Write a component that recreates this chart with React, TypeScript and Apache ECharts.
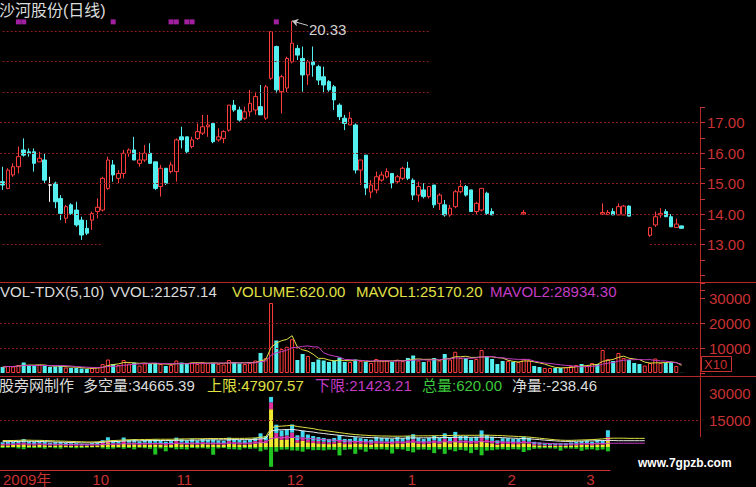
import React, { useEffect, useRef } from 'react';
import * as echarts from 'echarts';

const N = 133;
// [open, close, low, high]; null = no candle drawn
const price: (number[] | null)[] = [
  [15.06,14.95,14.79,15.55],[14.84,15.44,14.81,15.50],[15.28,15.55,15.22,15.66],[15.55,15.88,15.33,16.21],
  [16.10,15.93,15.88,16.48],[16.04,15.99,15.88,16.15],[16.04,15.66,15.39,16.15],[15.71,15.83,15.71,16.04],
  [15.77,15.11,15.01,15.99],[14.95,14.95,14.40,15.22],[15.01,14.40,14.19,15.06],[14.51,14.02,13.80,14.62],
  [13.86,14.24,13.70,14.30],[14.30,14.02,13.97,14.35],[14.13,13.64,13.58,14.40],[13.80,13.31,13.15,13.91],
  [13.53,13.37,13.31,13.80],[13.80,14.02,13.48,14.08],[14.08,14.22,13.86,14.51],[14.13,15.17,14.08,15.22],
  [14.84,15.77,14.79,15.88],[15.61,15.28,15.06,15.77],[15.17,15.33,15.01,15.44],[15.33,15.99,15.17,16.10],
  [15.99,16.10,15.88,16.15],[16.10,15.77,15.77,16.53],[15.66,15.77,15.55,16.04],[15.77,15.99,15.71,16.26],
  [15.99,15.66,15.66,16.32],[15.71,14.84,14.79,15.71],[14.90,15.50,14.57,15.61],[15.50,15.01,14.95,15.50],
  [15.39,15.61,15.33,15.71],[15.39,16.43,15.06,16.48],[16.53,16.43,16.15,16.86],[16.53,16.04,15.99,16.53],
  [16.21,16.43,16.15,16.53],[16.48,16.70,16.43,16.97],[16.65,16.86,16.59,17.25],[16.86,16.92,16.53,17.25],
  [16.97,16.37,16.32,16.97],[16.43,16.53,16.37,16.81],[16.48,16.70,16.32,16.75],[16.75,17.57,16.70,17.57],
  [17.57,17.41,17.35,17.74],[17.41,17.08,17.03,17.52],[17.14,17.35,17.08,17.52],[17.35,17.63,17.19,18.07],
  [17.41,17.85,17.25,18.01],[17.52,17.25,17.25,18.23],[17.14,18.17,17.08,18.23],[18.45,19.98,18.40,20.00],
  [19.49,18.07,17.96,19.52],[18.01,18.50,17.30,18.56],[18.13,19.10,18.00,19.16],[18.99,19.60,18.94,20.33],
  [19.43,19.21,19.05,19.54],[19.10,18.56,18.01,19.49],[18.56,18.99,18.23,19.05],[18.99,18.89,18.50,19.49],
  [18.83,18.39,18.23,18.89],[18.50,18.23,17.96,18.83],[18.34,18.07,18.01,18.39],[18.17,17.74,17.41,18.23],
  [17.57,17.19,17.08,17.63],[17.14,16.97,16.75,17.25],[16.92,17.14,16.92,17.35],[16.92,15.44,15.33,16.97],
  [15.44,15.77,14.95,15.77],[15.93,14.85,14.62,15.93],[14.72,14.95,14.52,15.11],[14.79,15.22,14.68,15.39],
  [15.11,15.28,15.06,15.39],[15.22,15.39,15.17,15.50],[15.33,15.01,14.84,15.33],[15.06,15.22,15.01,15.28],
  [15.17,15.50,15.11,15.55],[15.50,15.17,15.11,15.71],[15.11,14.62,14.46,15.17],[14.62,14.90,14.40,15.06],
  [14.79,14.57,14.51,15.01],[14.57,14.90,14.51,14.90],[14.95,14.30,14.20,14.95],[14.35,14.62,14.13,14.68],
  [14.30,13.97,13.91,14.46],[13.97,14.19,13.91,14.30],[14.24,14.73,14.19,14.79],[14.73,14.90,14.68,15.11],
  [14.90,14.62,14.57,14.95],[14.79,14.08,14.08,14.79],[14.08,14.35,13.97,14.40],[14.13,14.84,14.08,14.84],
  [14.68,14.02,13.97,14.73],[14.08,13.97,13.97,14.19],
  null,null,null,null,null,
  [14.00,14.05,13.97,14.13],
  null,null,null,null,null,null,null,null,null,null,null,null,null,null,
  [14.00,14.05,13.97,14.35],[13.98,14.05,13.97,14.13],[14.08,13.97,13.97,14.19],[13.97,14.24,13.97,14.35],
  [13.97,14.26,13.97,14.30],[14.26,13.93,13.93,14.28],
  null,null,null,
  [13.30,13.55,13.25,13.58],[13.64,13.91,13.58,14.08],[13.97,14.02,13.87,14.19],[14.08,13.91,13.90,14.16],
  [13.91,13.58,13.58,14.00],[13.56,13.67,13.56,13.85],[13.61,13.53,13.52,13.62],
  null,null,null,
];

const volume: number[] = [
  2400,2800,2600,3200,4200,3000,2800,3200,2800,2400,
  2600,2800,2200,2000,2000,1800,1600,2000,2400,3600,
  5400,3600,3200,5200,3800,4200,3000,3800,3800,4000,
  3600,2800,3200,5000,4200,3600,4200,3600,4400,4000,
  4000,3600,3400,5200,4400,3800,3600,4000,5000,8000,
  6000,28000,13000,9600,10500,13500,5200,7600,6800,4400,
  5400,5000,4400,5000,6200,4400,4400,5400,4800,4400,
  4000,5600,5000,5000,4400,5300,4800,6000,7000,5000,
  4400,5000,6000,5000,7600,5400,8500,6000,6000,5200,
  5600,9200,6700,5600,3600,4800,4800,4400,4400,5600,
  5000,2800,2400,2000,2000,2000,2000,2400,2800,3200,
  3600,2800,4000,3600,9200,5600,4800,8000,6000,5200,
  4000,3600,3000,4000,5800,4000,4000,4400,2800,62,
];
const volDir =
  'duuudddudd' + 'ddudddduuu' + 'uduuuduudd' + 'uduudduuuu' + 'duuudduuud' +
  'uuduuuddud' + 'ddddddudud' + 'uuuuduuddu' + 'dududuuudd' + 'uudddduduu' +
  'udduudduuu' + 'duuduuduud' + 'dduuuuddud';

const yellowSeg: number[] = [
  1000,900,1100,1300,1500,1000,900,1200,1000,800,
  900,1000,800,700,700,600,600,800,900,1500,
  2200,1200,1200,2000,1400,1500,1100,1400,1300,1400,
  1300,1000,1200,2000,1500,1300,1500,1300,1600,1400,
  1400,1300,1200,2000,1600,1400,1300,1500,2000,2800,
  2200,21000,5000,4000,4200,5200,2500,3400,2600,2200,
  2000,1800,1600,1800,2400,1600,1600,2000,1800,1600,
  1400,2000,1800,1800,1600,2000,1800,2200,2600,1800,
  1600,1800,2200,1800,2800,2000,3000,2200,2200,1800,
  2000,3400,2400,2000,1300,1700,1700,1600,1600,2000,
  1800,1000,900,700,700,700,700,700,900,1000,
  1200,1300,1000,1400,1300,3300,
];
const magentaSeg: number[] = [
  700,800,700,900,1000,800,700,900,700,600,
  700,700,600,500,500,400,400,500,600,900,
  1400,900,800,1300,1000,1000,800,1000,900,1000,
  900,700,800,1300,1000,900,1000,900,1100,1000,
  1000,900,900,1300,1100,1000,900,1000,1300,1800,
  1500,3800,2800,2000,2200,2800,1400,2000,1500,1300,
  1300,1200,1100,1200,1500,1100,1100,1300,1200,1100,
  1000,1300,1200,1200,1100,1300,1200,1500,1700,1200,
  1100,1200,1500,1200,1800,1300,2000,1500,1500,1300,
  1400,2200,1600,1400,900,1200,1200,1100,1100,1400,
  1200,700,600,500,500,500,500,500,600,700,
  800,900,700,1000,900,2200,
];
const cyanSeg: number[] = [
  900,1100,1000,1200,1900,1400,1300,1300,1300,1000,
  1100,1200,900,900,900,800,700,800,1000,1400,
  1800,1600,1300,2000,1500,1900,1300,1500,1700,1800,
  1500,1300,1300,1900,1800,1500,1800,1500,1800,1700,
  1800,1500,1400,1900,1800,1500,1500,1600,1900,3000,
  2400,3000,4600,3200,3600,4500,2600,3600,2800,2600,
  2200,2000,1800,2000,2700,1800,1800,2200,1900,1800,
  1700,2400,2100,2000,1800,2200,1900,2400,2800,2100,
  1800,2100,2400,2100,3000,2200,3400,2400,2400,2100,
  2300,3600,2700,2300,1500,2000,2000,1800,1800,2300,
  2100,1200,1000,900,900,900,900,900,1000,1200,
  1300,1500,1200,1700,1500,3800,
];
const greenSeg: number[] = [
  -600,-400,-300,-800,-1200,-500,-600,-500,-900,-300,
  -700,-900,-300,-500,-700,-600,-400,-300,-200,-800,
  -1200,-900,-400,-1000,-600,-1300,-400,-700,-1000,-4200,
  -800,-2400,-600,-1300,-1200,-1400,-600,-800,-700,-900,
  -4300,-800,-600,-1200,-1300,-1500,-700,-1000,-800,-2400,
  -1500,-11000,-2600,-1500,-1400,-1900,-2000,-2600,-1300,-1800,
  -1700,-1900,-1500,-1600,-4700,-1600,-1300,-3800,-1400,-2600,
  -1200,-1400,-1300,-1500,-3600,-1200,-1400,-2200,-3000,-1500,
  -1400,-1600,-3400,-1300,-3800,-1500,-2400,-1600,-2000,-3400,
  -1600,-4600,-2000,-1800,-1400,-1300,-1600,-1200,-1400,-2800,
  -1800,-1000,-900,-700,-800,-900,-2000,-800,-900,-1000,
  -2100,-1400,-1300,-1800,-1400,-2400,
];
const upperLine: number[] = [
  3600,3600,3600,3700,3800,3800,3700,3700,3600,3500,
  3400,3300,3200,3100,3000,2900,2800,2800,2900,3100,
  3400,3600,3700,3900,4000,4100,4100,4200,4200,4300,
  4300,4300,4300,4400,4500,4500,4600,4600,4600,4700,
  4700,4700,4700,4800,4800,4800,4800,4900,5000,5400,
  5600,10600,11400,11600,11800,12000,11400,11000,10600,10200,
  9600,9200,8800,8400,8000,7600,7200,6900,6700,6500,
  6300,6200,6100,6100,6000,6000,6000,6100,6200,6200,
  6200,6200,6300,6300,6400,6400,6500,6500,6500,6500,
  6500,6600,6600,6500,6400,6300,6100,6000,5800,5700,
  5500,5200,4900,4600,4300,4000,3800,3700,3700,3800,
  3900,4000,4100,4300,4500,4800,4900,4900,4900,4800,
  4800,4800,4800,
];
const midLine: number[] = [
  3000,3000,3000,3100,3200,3200,3100,3100,3000,2900,
  2800,2700,2600,2500,2400,2300,2300,2300,2400,2600,
  2900,3000,3100,3300,3400,3400,3500,3500,3500,3600,
  3600,3600,3600,3700,3800,3800,3800,3900,3900,3900,
  4000,4000,4000,4000,4100,4100,4100,4100,4200,4500,
  4700,8800,9500,9600,9700,9800,9400,9000,8600,8300,
  7800,7500,7100,6800,6500,6200,5900,5700,5500,5300,
  5200,5100,5000,5000,4900,4900,4900,5000,5100,5100,
  5100,5100,5200,5200,5300,5300,5400,5400,5400,5400,
  5400,5500,5500,5400,5300,5200,5000,4900,4800,4700,
  4500,4300,4100,3800,3600,3400,3200,3100,3100,3200,
  3300,3400,3400,3500,3600,3700,3600,3500,3500,3500,
  3500,3500,3500,
];
const lowerLine: number[] = [
  1600,1600,1600,1700,1700,1700,1700,1700,1600,1600,
  1500,1500,1400,1400,1300,1300,1300,1300,1300,1400,
  1500,1600,1700,1800,1800,1800,1900,1900,1900,1900,
  1900,1900,1900,2000,2000,2000,2100,2100,2100,2100,
  2100,2100,2100,2200,2200,2200,2200,2200,2300,2400,
  2500,4800,5100,5200,5300,5400,5100,4900,4800,4600,
  4300,4100,3900,3800,3600,3400,3200,3100,3000,2900,
  2800,2800,2700,2700,2700,2700,2700,2700,2800,2800,
  2800,2800,2800,2800,2900,2900,2900,2900,2900,2900,
  2900,3000,3000,2900,2900,2800,2700,2700,2600,2600,
  2500,2300,2200,2100,1900,1800,1700,1700,1700,1700,
  1800,1800,1800,1900,2000,2100,2100,2100,2100,2100,
  2100,2100,2100,
];

const signalDays = [3, 4, 21, 32, 33, 35, 36, 52];
const signalLevel = 20.3;
const priceGridFull = [14, 15, 16, 17];
const priceGridPartial = [18, 19, 20];
const volGrid = [10000, 20000];
const dateCount = 116;
const monthStarts = [0, 17, 33, 54, 77, 96, 111];
const monthLabels = ['2009年', '10', '11', '12', '1', '2', '3'];

const FONT = '"Liberation Sans", Arial, "Noto Sans CJK SC", sans-serif';
const UP = '#ff3c3c';
const DOWN = '#54f0f0';
const AXIS_RED = '#c83232';
const GRID_RED = '#8a1e1e';
const YEL = '#e0e044';
const MAG = '#c43cc4';

function movingAvg(arr: number[], n: number) {
  return arr.map((_, i) => {
    const s = arr.slice(Math.max(0, i - n + 1), i + 1);
    return +(s.reduce((a, b) => a + b, 0) / s.length).toFixed(1);
  });
}

export default function App() {
  const ref = useRef<HTMLDivElement>(null);
  useEffect(() => {
    if (!ref.current) return;
    const chart = echarts.init(ref.current, undefined, { renderer: 'svg' });
    const idx = Array.from({ length: N }, (_, i) => String(i));
    const dateCats = Array.from({ length: dateCount }, (_, i) => String(i));

    let peakIdx = 0;
    let peakVal = -Infinity;
    price.forEach((p, i) => { if (p && p[3] > peakVal) { peakVal = p[3]; peakIdx = i; } });

    const candleData = price.map((p) => {
      if (!p) return ['-', '-', '-', '-'];
      if (p[0] === p[1]) {
        return { value: p, itemStyle: { color: '#ffffff', color0: '#ffffff', borderColor: '#ffffff', borderColor0: '#ffffff' } };
      }
      return p;
    });
    const volData = volume.map((v, i) => ({
      value: v,
      itemStyle: volDir[i] === 'u'
        ? { color: '#000', borderColor: UP, borderWidth: 1 }
        : { color: DOWN, borderWidth: 0 },
    }));
    const ma5 = movingAvg(volume, 5);
    const ma10 = movingAvg(volume, 10);

    const gridLineStyle = { color: GRID_RED, type: [2, 2], width: 1 };
    const txt = (text: string, x: number, y: number, fill: string, size = 15, weight = 'normal') => ({
      type: 'text', x, y, silent: true,
      style: { text, fill, fontSize: size, fontFamily: FONT, fontWeight: weight, verticalAlign: 'middle' },
    });
    const rightAxis = (extra: any) => ({
      type: 'value', position: 'right',
      axisLine: { show: false, onZero: false }, splitLine: { show: false },
      ...extra,
    });

    const option: any = {
      animation: false,
      backgroundColor: '#000',
      textStyle: { fontFamily: FONT },
      grid: [
        { left: 0, right: 56, top: 0.5, height: 305 },
        { left: 0, right: 56, top: 107.25, height: 183 },
        { left: 0, right: 56, top: 283, height: 90 },
        { left: 0, right: 56, top: 376.8, height: 97.2 },
        { left: 0, width: 610, top: 470, height: 1.5 },
      ],
      xAxis: [
        { gridIndex: 0, type: 'category', data: idx, show: false },
        { gridIndex: 1, type: 'category', data: ['p'], show: false },
        { gridIndex: 2, type: 'category', data: idx, show: false },
        { gridIndex: 3, type: 'category', data: idx, show: false },
        {
          gridIndex: 4, type: 'category', data: dateCats, position: 'bottom',
          axisLine: { lineStyle: { color: AXIS_RED, width: 1 } },
          axisTick: { interval: (i: number) => i > 0 && monthStarts.includes(i), length: 16, lineStyle: { color: AXIS_RED } },
          axisLabel: {
            interval: (i: number) => monthStarts.includes(i),
            formatter: (_v: string, i: number) => { const k = monthStarts.indexOf(i); return k >= 0 ? monthLabels[k] : ''; },
            color: AXIS_RED, fontSize: 15, align: 'left', margin: 2, fontFamily: FONT,
          },
          splitLine: { show: false },
        },
        {
          gridIndex: 4, type: 'category', data: dateCats, position: 'bottom',
          axisLine: { show: false }, axisLabel: { show: false },
          axisTick: { interval: 4, length: 3, lineStyle: { color: AXIS_RED } },
        },
      ],
      yAxis: [
        { gridIndex: 0, type: 'value', min: 11, max: 21, show: false },
        rightAxis({
          gridIndex: 1, min: 11.5, max: 17.5, interval: 0.5,
          axisTick: { show: true, length: 5, lineStyle: { color: AXIS_RED } },
          axisLabel: {
            color: AXIS_RED, fontSize: 15, margin: 7, fontFamily: FONT,
            formatter: (v: number) => (v >= 13 && v <= 17 && Math.abs(v - Math.round(v)) < 1e-6 ? v.toFixed(2) : ''),
          },
        }),
        rightAxis({
          gridIndex: 2, min: 0, max: 36000, interval: 10000,
          axisTick: { show: true, length: 5, lineStyle: { color: AXIS_RED } },
          axisLabel: {
            color: AXIS_RED, fontSize: 15, margin: 9, fontFamily: FONT,
            formatter: (v: number) => (v > 0 && v % 10000 === 0 ? String(v) : ''),
          },
        }),
        rightAxis({
          gridIndex: 3, min: -15000, max: 39000, interval: 15000,
          axisTick: { show: false },
          axisLabel: {
            color: AXIS_RED, fontSize: 15, margin: 9, fontFamily: FONT,
            formatter: (v: number) => (v > 0 && v % 15000 === 0 ? String(v) : ''),
          },
        }),
        { gridIndex: 4, type: 'value', show: false },
      ],
      series: [
        {
          type: 'scatter', xAxisIndex: 0, yAxisIndex: 0, z: 2,
          data: signalDays.map((d) => [d, signalLevel]),
          symbol: 'rect', symbolSize: [5, 5], itemStyle: { color: '#c828c8' },
          markLine: {
            silent: true, symbol: ['none', 'none'], label: { show: false }, lineStyle: gridLineStyle,
            data: [
              ...priceGridFull.map((v) => ({ yAxis: v })),
              [{ coord: [0, 13] }, { coord: [19, 13] }],
              [{ coord: [123, 13] }, { coord: [N - 1, 13] }],
              ...priceGridPartial.map((v) => [{ coord: [0, v] }, { coord: [81, v] }]),
            ],
          },
        },
        {
          type: 'candlestick', xAxisIndex: 0, yAxisIndex: 0, z: 3, barWidth: 4,
          data: candleData,
          itemStyle: { color: '#000', color0: DOWN, borderColor: UP, borderColor0: DOWN, borderWidth: 1 },
          markLine: {
            silent: true, symbol: ['arrow', 'none'], symbolSize: 6,
            label: { show: false },
            lineStyle: { color: '#c8c8c8', width: 1, type: 'solid' },
            data: [[{ coord: [peakIdx, peakVal] }, { coord: [peakIdx + 3, peakVal - 0.15] }]],
          },
          markPoint: {
            silent: true, symbol: 'circle', symbolSize: 0,
            label: { show: true, position: 'right', distance: 1, color: '#d4d4d4', fontSize: 15, fontFamily: FONT, formatter: peakVal.toFixed(2) },
            data: [{ coord: [peakIdx + 3, peakVal - 0.27], value: peakVal }],
          },
        },
        {
          type: 'bar', xAxisIndex: 2, yAxisIndex: 2, barWidth: 4, data: volData, z: 2,
          markLine: {
            silent: true, symbol: ['none', 'none'], label: { show: false }, lineStyle: gridLineStyle,
            data: volGrid.map((v) => ({ yAxis: v })),
          },
        },
        { type: 'line', xAxisIndex: 2, yAxisIndex: 2, data: ma5, showSymbol: false, z: 4, lineStyle: { color: YEL, width: 1 } },
        { type: 'line', xAxisIndex: 2, yAxisIndex: 2, data: ma10, showSymbol: false, z: 4, lineStyle: { color: MAG, width: 1 } },
        {
          type: 'bar', xAxisIndex: 3, yAxisIndex: 3, stack: 'v', barWidth: 4, data: yellowSeg, itemStyle: { color: '#f0e830' },
          markLine: {
            silent: true, symbol: ['none', 'none'], label: { show: false }, lineStyle: gridLineStyle,
            data: [{ yAxis: 15000 }],
          },
        },
        { type: 'bar', xAxisIndex: 3, yAxisIndex: 3, stack: 'v', barWidth: 4, data: magentaSeg, itemStyle: { color: '#e0309c' } },
        { type: 'bar', xAxisIndex: 3, yAxisIndex: 3, stack: 'v', barWidth: 4, data: cyanSeg, itemStyle: { color: '#40d8f0' } },
        { type: 'bar', xAxisIndex: 3, yAxisIndex: 3, stack: 'v', barWidth: 4, data: greenSeg, itemStyle: { color: '#22c422' } },
        { type: 'line', xAxisIndex: 3, yAxisIndex: 3, data: lowerLine, showSymbol: false, z: 4, lineStyle: { color: MAG, width: 1 } },
        { type: 'line', xAxisIndex: 3, yAxisIndex: 3, data: midLine, showSymbol: false, z: 4, lineStyle: { color: '#e8e8e8', width: 1 } },
        { type: 'line', xAxisIndex: 3, yAxisIndex: 3, data: upperLine, showSymbol: false, z: 4, lineStyle: { color: YEL, width: 1 } },
      ],
      graphic: [
        { type: 'line', silent: true, shape: { x1: 0, y1: 282.5, x2: 756, y2: 282.5 }, style: { stroke: '#b42828', lineWidth: 1 } },
        { type: 'line', silent: true, shape: { x1: 0, y1: 376.5, x2: 756, y2: 376.5 }, style: { stroke: '#b42828', lineWidth: 1 } },
        { type: 'line', silent: true, shape: { x1: 700.5, y1: 108, x2: 700.5, y2: 437 }, style: { stroke: '#b42828', lineWidth: 1 } },
        { type: 'rect', silent: true, shape: { x: 701.5, y: 356.5, width: 30, height: 15 }, style: { fill: 'none', stroke: AXIS_RED, lineWidth: 1 } },
        txt('X10', 704, 364.5, AXIS_RED, 13),
        txt('沙河股份(日线)', -1, 10, '#dcdcdc', 16),
        txt('VOL-TDX(5,10)', 0, 291.5, '#dcdcdc'),
        txt('VVOL:21257.14', 110, 291.5, '#dcdcdc'),
        txt('VOLUME:620.00', 232, 291.5, YEL),
        txt('MAVOL1:25170.20', 356, 291.5, YEL),
        txt('MAVOL2:28934.30', 490, 291.5, MAG),
        txt('股旁网制作', -1, 385, '#dcdcdc'),
        txt('多空量:34665.39', 83, 385, '#dcdcdc'),
        txt('上限:47907.57', 207, 385, YEL),
        txt('下限:21423.21', 315, 385, MAG),
        txt('总量:620.00', 422, 385, '#3cc83c'),
        txt('净量:-238.46', 512, 385, '#dcdcdc'),
        txt('www.7gpzb.com', 638, 463, '#ffffff', 12, 'bold'),
      ],
    };
    chart.setOption(option);
    return () => chart.dispose();
  }, []);
  return (
    <div
      ref={ref}
      style={{ position: 'fixed', left: 0, top: 0, width: 756, height: 487, background: '#000' }}
    />
  );
}
